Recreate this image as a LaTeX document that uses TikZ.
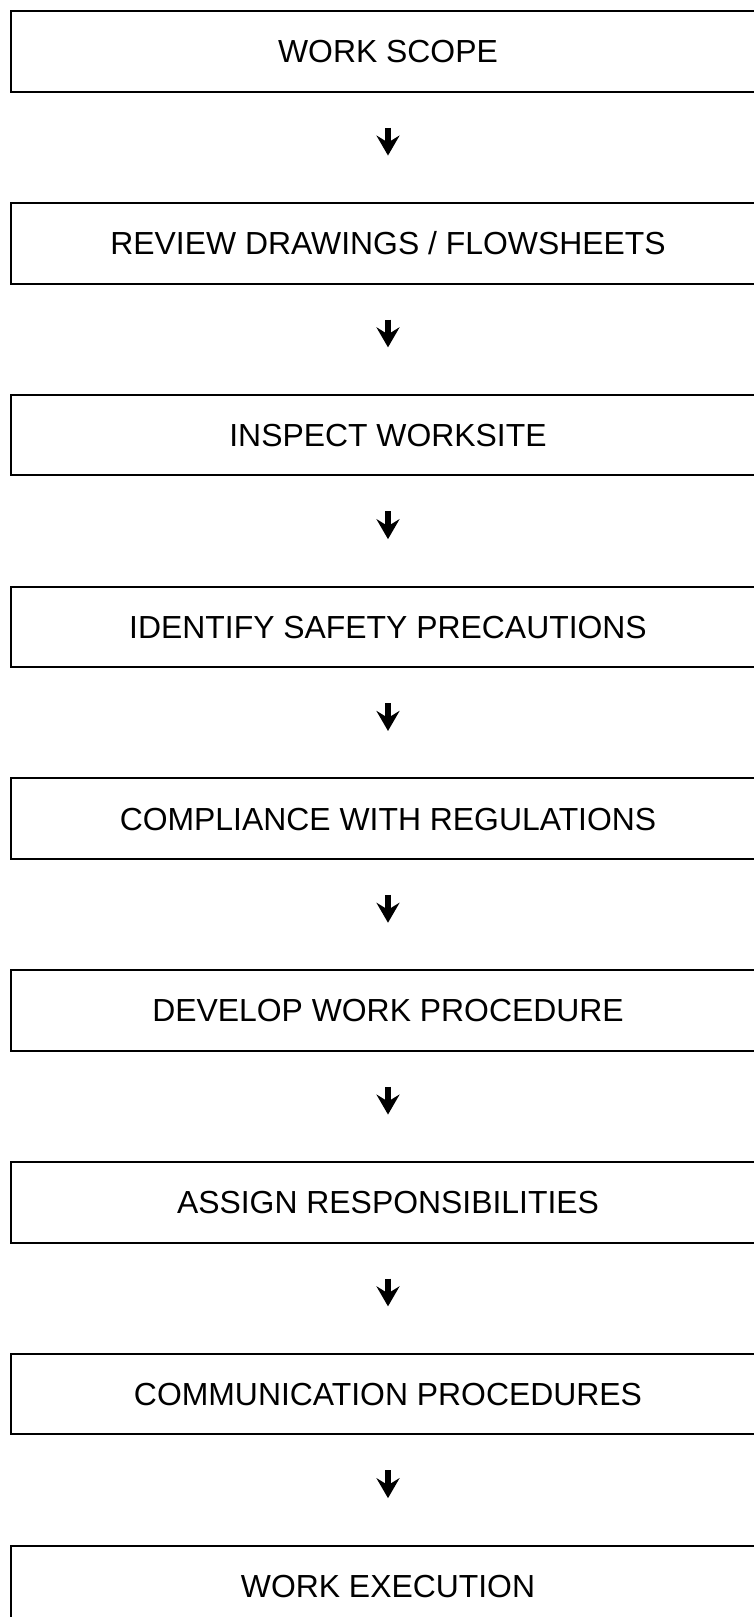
\documentclass[tikz,border=0pt]{standalone}
\usepackage{fontspec}
\setmainfont{Liberation Sans}
\usetikzlibrary{arrows.meta}

\begin{document}
\begin{tikzpicture}[x=1pt, y=1pt,
    stepbox/.style={rectangle, draw, line width=2pt, minimum width=754pt, minimum height=80.5pt,
        inner sep=0pt, text height=22.8pt, text depth=0pt, font=\fontsize{31.9}{38}\selectfont},
    flow/.style={line width=6pt, -{Stealth[width=23pt,length=20pt,inset=7pt]}, shorten <=35pt, shorten >=46.5pt}]

\useasboundingbox (0, 0) rectangle (754, -1617);

\node (scope)[stepbox] at (388, -51.5) {WORK SCOPE};
\node (review)[stepbox] at (388, -243.3) {REVIEW DRAWINGS / FLOWSHEETS};
\node (inspect)[stepbox] at (388, -435.1) {INSPECT WORKSITE};
\node (safety)[stepbox] at (388, -626.9) {IDENTIFY SAFETY PRECAUTIONS};
\node (comply)[stepbox] at (388, -818.7) {COMPLIANCE WITH REGULATIONS};
\node (develop)[stepbox] at (388, -1010.5) {DEVELOP WORK PROCEDURE};
\node (assign)[stepbox] at (388, -1202.3) {ASSIGN RESPONSIBILITIES};
\node (comms)[stepbox] at (388, -1394.1) {COMMUNICATION PROCEDURES};
\node (execute)[stepbox] at (388, -1585.9) {WORK EXECUTION};


\draw[flow] (scope) -- (review);
\draw[flow] (review) -- (inspect);
\draw[flow] (inspect) -- (safety);
\draw[flow] (safety) -- (comply);
\draw[flow] (comply) -- (develop);
\draw[flow] (develop) -- (assign);
\draw[flow] (assign) -- (comms);
\draw[flow] (comms) -- (execute);


\end{tikzpicture}
\end{document}
